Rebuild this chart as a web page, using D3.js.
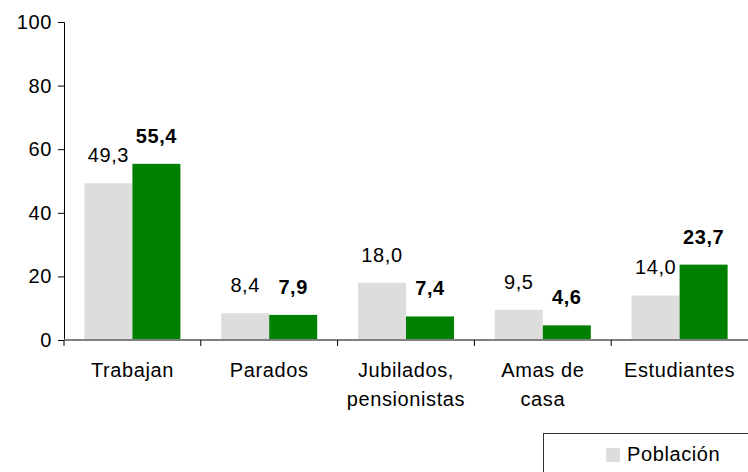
<!DOCTYPE html>
<html>
<head>
<meta charset="utf-8">
<script src="https://cdn.jsdelivr.net/npm/d3@7"></script>
<style>
  body { margin: 0; background: #fff; }
  svg { display: block; font-family: "Liberation Sans", Arial, sans-serif; }
  svg text { font-size: 20px; letter-spacing: 0.6px; fill: #000; }
</style>
</head>
<body>
<svg id="chart"></svg>
<script>
var categories = [["Trabajan"], ["Parados"], ["Jubilados,", "pensionistas"], ["Amas de", "casa"], ["Estudiantes"]];
var poblacion = [49.3, 8.4, 18.0, 9.5, 14.0];
var muestra = [55.4, 7.9, 7.4, 4.6, 23.7];
var yTicks = [0, 20, 40, 60, 80, 100];
var legendLabel = "Población";

var width = 748, height = 472;
var svg = d3.select("#chart").attr("width", width).attr("height", height);

//scales
var x = d3.scaleBand().domain(d3.range(categories.length)).range([64, 748]);
var inner = d3.scaleBand().domain([0, 1]).range([0, x.bandwidth()]).paddingOuter(0.425).paddingInner(0);
var y = d3.scaleLinear().domain([0, 100]).range([340, 22]);

function fmt(v) { return v.toFixed(1).replace(".", ","); }

// bars
var groups = svg.selectAll("g.cat")
  .data(categories)
  .enter()
  .append("g")
  .attr("class", "cat")
  .attr("transform", function (d, i) { return "translate(" + x(i) + ",0)"; });

groups.append("rect")
  .attr("x", inner(0))
  .attr("y", function (d, i) { return y(poblacion[i]); })
  .attr("width", inner.bandwidth())
  .attr("height", function (d, i) { return y(0) - y(poblacion[i]); })
  .attr("fill", "#dddddd");

groups.append("rect")
  .attr("x", inner(1))
  .attr("y", function (d, i) { return y(muestra[i]); })
  .attr("width", inner.bandwidth())
  .attr("height", function (d, i) { return y(0) - y(muestra[i]); })
  .attr("fill", "#008000");

// value labels
groups.append("text")
  .attr("x", inner(0) + inner.bandwidth() / 2)
  .attr("y", function (d, i) { return y(poblacion[i]) - 21; })
  .attr("text-anchor", "middle")
  .text(function (d, i) { return fmt(poblacion[i]); });

groups.append("text")
  .attr("x", inner(1) + inner.bandwidth() / 2)
  .attr("y", function (d, i) { return y(muestra[i]) - 21; })
  .attr("text-anchor", "middle")
  .style("font-weight", "bold")
  .text(function (d, i) { return fmt(muestra[i]); });

// y axis
var yAxis = svg.append("g")
  .attr("transform", "translate(64,0)")
  .call(d3.axisLeft(y).tickValues(yTicks).tickSize(6).tickPadding(6));
yAxis.attr("font-size", null).attr("font-family", null);
yAxis.select(".domain").attr("stroke", "#000");
yAxis.selectAll(".tick line").attr("stroke", "#000");
yAxis.selectAll("text").attr("fill", "#000");

// x axis line and boundary ticks
svg.append("line")
  .attr("x1", 64).attr("x2", 748)
  .attr("y1", y(0)).attr("y2", y(0))
  .attr("stroke", "#808080").attr("stroke-width", 2);

svg.selectAll("line.xtick")
  .data(d3.range(categories.length))
  .enter()
  .append("line")
  .attr("class", "xtick")
  .attr("x1", function (d) { return x(d); })
  .attr("x2", function (d) { return x(d); })
  .attr("y1", y(0))
  .attr("y2", y(0) + 6)
  .attr("stroke", "#000");

// category labels
groups.append("text")
  .attr("text-anchor", "middle")
  .selectAll("tspan")
  .data(function (d) { return d; })
  .enter()
  .append("tspan")
  .attr("x", x.bandwidth() / 2)
  .attr("y", function (d, i) { return 377 + i * 29; })
  .text(function (d) { return d; });

// legend (cut off by the frame)
var legend = svg.append("g");
legend.append("rect")
  .attr("x", 543.5).attr("y", 433.5)
  .attr("width", 220).attr("height", 60)
  .attr("fill", "#fff")
  .attr("stroke", "#333");
legend.append("rect")
  .attr("x", 606).attr("y", 448)
  .attr("width", 14).attr("height", 14)
  .attr("fill", "#dddddd");
legend.append("text")
  .attr("x", 627).attr("y", 461)
  .text(legendLabel);
</script>
</body>
</html>
